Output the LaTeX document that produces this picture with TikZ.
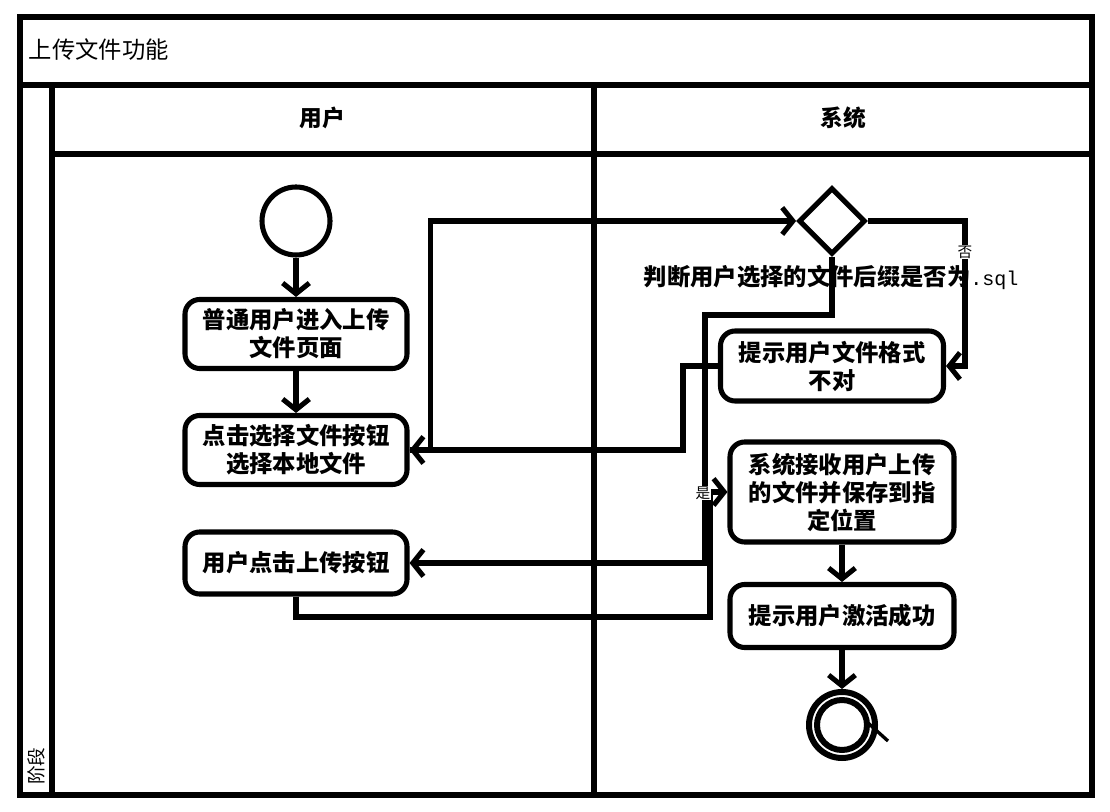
\documentclass[tikz,border=0pt]{standalone}
\usepackage{fontspec}
\setmainfont{Noto Sans CJK SC}
\newfontfamily\monof{Liberation Mono}
\usetikzlibrary{arrows.meta,shapes.geometric}
\newcommand\boxfont{\fontsize{17.5}{21}\selectfont\bfseries}
\tikzset{
  ln/.style={line width=3.8pt},
  act/.style={draw, line width=3.8pt, rounded corners=11pt, align=center, inner sep=0pt, font=\boxfont},
  conn/.style={line width=3.8pt, -{Straight Barb[length=8pt,width=20pt]}},
  small/.style={font=\fontsize{11}{12}\selectfont, inner sep=0.5pt, fill=white},
}
\begin{document}
\begin{tikzpicture}[x=0.75pt,y=-0.75pt]
\useasboundingbox (0,0) rectangle (1110,812);
% frame
\draw[ln] (20,17) rectangle (1092,795);
\draw[ln] (20,85) -- (1092,85);
\draw[ln] (52,85) -- (52,795);
\draw[ln] (52,154) -- (1092,154);
\draw[ln] (594,85) -- (594,795);
\node[anchor=west, font=\fontsize{17.5}{20}\selectfont] (title) at (24,50) {上传文件功能};
\node[font=\fontsize{17}{20}\selectfont\bfseries] (h1) at (322,118) {用户};
\node[font=\fontsize{17}{20}\selectfont\bfseries] (h2) at (843,118) {系统};
\node[rotate=90, font=\fontsize{14}{16}\selectfont, inner sep=0pt] (stage) at (36,766) {阶段};
% nodes
\node[circle, draw, line width=3.8pt, minimum size=51pt, inner sep=0pt] (start) at (296,221) {};
\node[act, minimum width=166.5pt, minimum height=51.75pt] (b1) at (296,334) {普通用户进入上传\\文件页面};
\node[act, minimum width=166.5pt, minimum height=51.75pt] (b2) at (296,450) {点击选择文件按钮\\选择本地文件};
\node[act, minimum width=166.5pt, minimum height=46.5pt] (b3) at (296,563) {用户点击上传按钮};
\node[diamond, draw, line width=3.8pt, minimum width=50pt, minimum height=50pt, inner sep=0pt, aspect=1] (dia) at (832,221) {};
\node[font=\fontsize{17.5}{20}\selectfont\bfseries] (dlabel) at (831,277) {判断用户选择的文件后缀是否为{\monof\mdseries\fontsize{15}{17}\selectfont .sql}};
\node[act, minimum width=167.25pt, minimum height=52.5pt] (prompt) at (832,366) {提示用户文件格式\\不对};
\node[act, minimum width=168pt, minimum height=75pt] (recv) at (842,492) {系统接收用户上传\\的文件并保存到指\\定位置};
\node[act, minimum width=168pt, minimum height=47.25pt] (succ) at (842,616) {提示用户激活成功};
\node[circle, draw, line width=4.5pt, minimum size=49.5pt, inner sep=0pt] (end) at (842,725) {};
\draw[line width=4.5pt] (end.center) circle[radius=18.75pt];
\draw[line width=2.5pt] (867,722) -- (888,741);
% connectors
\draw[conn] (start) -- (b1);
\draw[conn] (b1) -- (b2);
\draw[conn] (b2.east) -- ++(21,0) |- (dia.west);
\draw[conn] (prompt.west) -- ++(-35,0) |- (b2.east);
\draw[conn] (dia.south) |- (705,315) |- (b3.east);
\draw[conn] (b3.south) |- (710,617) |- (recv.west);
\draw[conn] (dia.east) -- (965,221) |- (prompt.east);
\draw[conn] (recv) -- (succ);
\draw[conn] (succ) -- (end);
\node[small] (no) at (965,252) {否};
\node[small] (yes) at (703,493) {是};
\end{tikzpicture}
\end{document}
